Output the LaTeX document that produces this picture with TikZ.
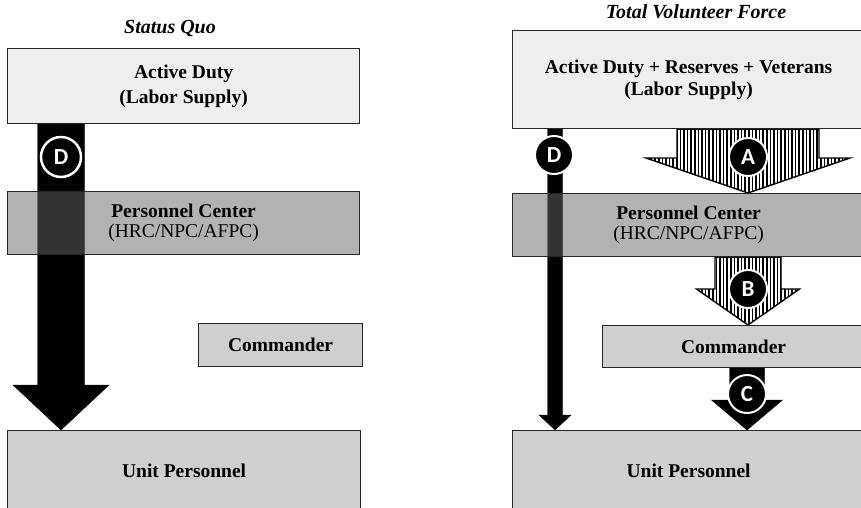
\documentclass[tikz,border=0pt]{standalone}
\usepackage{fontspec}
\setmainfont{Liberation Serif}
\newfontfamily\tagfont{Carlito}
\usetikzlibrary{calc,patterns.meta,backgrounds}

\definecolor{supply}{HTML}{EEEEEE}
\definecolor{unit}{HTML}{CFCFCF}

\begin{document}
\begin{tikzpicture}[x=1pt, y=-1pt,
	box/.style = {draw=black!85, line width=1.2pt, anchor=north west, inner sep=0pt, align=center,
		font=\fontsize{19.5}{25}\selectfont\bfseries},
	centre/.style = {box, fill=black!60, fill opacity=0.5, text opacity=1,
		font=\fontsize{19.5}{20}\selectfont\bfseries},
	tag/.style = {circle, fill=black, draw=white, line width=2pt, text=white, minimum size=38pt,
		inner sep=0pt, font=\tagfont\bfseries\fontsize{23}{23}\selectfont},
	fat/.style n args = {3}{to path={let \p1=(\tikztostart), \p2=(\tikztotarget) in
		(\x1-#1/2,\y1) -- (\x1-#1/2,\y2+#3) -- (\x1-#2/2,\y2+#3) -- (\x1,\y2)
		-- (\x1+#2/2,\y2+#3) -- (\x1+#1/2,\y2+#3) -- (\x1+#1/2,\y1) -- cycle}},
	hatch/.style = {draw=black, line width=1.4pt, pattern={Lines[angle=90,distance=3.6pt,line width=1.7pt]}}]
	\useasboundingbox (0,0) rectangle (861,507);
	\clip (0,0) rectangle (861,507);

	% status quo
	\node[font=\fontsize{20}{20}\selectfont\bfseries\itshape, anchor=base] (t1) at (170,33) {Status Quo};
	\node[box, fill=supply, minimum width=352pt, minimum height=75pt] (ad1) at (7,48) {Active Duty\\(Labor Supply)};
	\node[centre, minimum width=352pt, minimum height=63pt] (pc1) at (7,191) {Personnel Center\\{\mdseries (HRC/NPC/AFPC)}};
	\node[box, fill=unit, minimum width=164pt, minimum height=43pt] (cm1) at (198,323) {Commander};
	\node[box, fill=unit, minimum width=353pt, minimum height=80pt] (un1) at (7,430) {Unit Personnel};

	% total volunteer force
	\node[font=\fontsize{20}{20}\selectfont\bfseries\itshape, anchor=base] (t2) at (696,18) {Total Volunteer Force};
	\node[box, fill=supply, minimum width=352pt, minimum height=98pt, font=\fontsize{19.5}{22}\selectfont\bfseries] (ad2) at (512,30)
		{Active Duty + Reserves + Veterans\\(Labor Supply)};
	\node[centre, minimum width=352pt, minimum height=63pt] (pc2) at (512,193) {Personnel Center\\{\mdseries (HRC/NPC/AFPC)}};
	\node[box, fill=unit, minimum width=262pt, minimum height=42pt] (cm2) at (602,325) {Commander};
	\node[box, fill=unit, minimum width=352pt, minimum height=80pt] (un2) at (512,430) {Unit Personnel};

	\begin{scope}[on background layer]
		\draw[fat={47}{96}{45}, fill=black] (61,0 |- ad1.south) to (61,0 |- un1.north);
		\draw[fat={15}{32}{15}, fill=black] (555,0 |- ad2.south) to (555,0 |- un2.north);
		\draw[fat={142}{204}{35}, hatch] (748,0 |- ad2.south) to (748,0 |- pc2.north);
		\draw[fat={66}{103}{36}, hatch] (748,0 |- pc2.south) to (748,0 |- cm2.north);
		\draw[fat={35}{71}{30}, fill=black] (747,0 |- cm2.south) to (747,0 |- un2.north);
	\end{scope}

	\node[tag, minimum size=40pt, line width=2.5pt] (d1) at (61,157) {D};
	\node[tag] (d2) at (554,155) {D};
	\node[tag] (a) at (748,157) {A};
	\node[tag] (b) at (748,289) {B};
	\node[tag] (c) at (747,394) {C};
\end{tikzpicture}
\end{document}
